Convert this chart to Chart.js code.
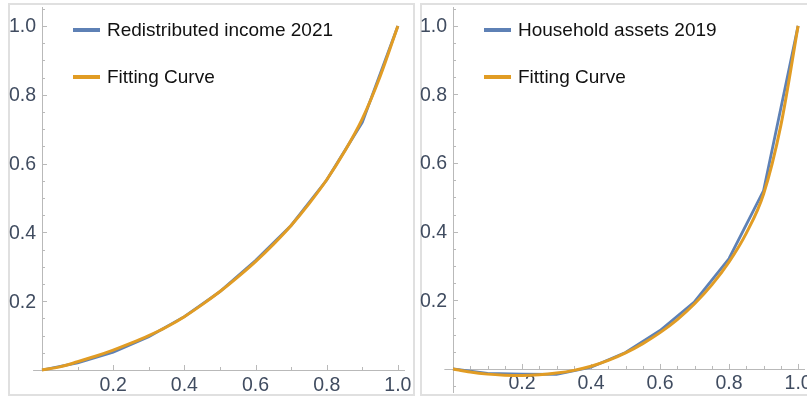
<!DOCTYPE html>
<html>
<head>
<meta charset="utf-8">
<script src="https://cdn.jsdelivr.net/npm/chart.js@4"></script>
<style>
  html, body { margin: 0; padding: 0; background: #ffffff; width: 807px; height: 399px; overflow: hidden; }
  .frame { position: absolute; box-sizing: border-box; border: 2px solid #e0e0e0; }
  canvas { position: absolute; top: 0; }
</style>
</head>
<body>
<div class="frame" style="left:8px; top:3px; width:407px; height:393px;"></div>
<div class="frame" style="left:420px; top:3px; width:400px; height:393px;"></div>
<canvas id="left" width="418" height="399" style="left:0px; width:418px; height:399px;"></canvas>
<canvas id="right" width="389" height="399" style="left:418px; width:389px; height:399px;"></canvas>
<script>
// ---- data ----
const deciles = [0, 0.1, 0.2, 0.3, 0.4, 0.5, 0.6, 0.7, 0.8, 0.9, 1.0];
const incomeValues = [0, 0.021, 0.052, 0.097, 0.155, 0.228, 0.318, 0.42, 0.552, 0.72, 1.0];
const assetsValues = [0, -0.013, -0.015, -0.016, 0.005, 0.048, 0.112, 0.196, 0.322, 0.52, 1.0];

const fitX = [0, 0.05, 0.1, 0.15, 0.2, 0.25, 0.3, 0.35, 0.4, 0.45, 0.5, 0.55, 0.6, 0.65, 0.7, 0.75, 0.8, 0.85, 0.9, 0.95, 1.0];
const incomeFit = [0, 0.009, 0.024, 0.04, 0.058, 0.078, 0.1, 0.125, 0.155, 0.19, 0.228, 0.27, 0.315, 0.365, 0.42, 0.483, 0.553, 0.635, 0.73, 0.853, 1.0];
const assetsFit = [0, -0.009, -0.015, -0.018, -0.019, -0.017, -0.012, -0.004, 0.008, 0.025, 0.047, 0.074, 0.106, 0.144, 0.19, 0.245, 0.312, 0.396, 0.51, 0.71, 1.0];

const incomeLabel = 'Redistributed income 2021';
const assetsLabel = 'Household assets 2019';
const fitLabel = 'Fitting Curve';

const tickValues = [0.2, 0.4, 0.6, 0.8, 1.0];
const tickLabels = ['0.2', '0.4', '0.6', '0.8', '1.0'];

// ---- styling ----
const BLUE = '#5e81b5';
const ORANGE = '#e19c24';
const AXIS = '#b9b9b9';
const LABEL = '#404c60';
const FONT = '"Liberation Sans", Arial, Helvetica, sans-serif';

function pts(xs, ys) { return xs.map((x, i) => ({ x: x, y: ys[i] })); }

const axesPlugin = {
  id: 'mmaAxes',
  beforeDatasetsDraw(chart, args, opts) {
    const ctx = chart.ctx;
    const xs = chart.scales.x, ys = chart.scales.y;
    const x0 = xs.getPixelForValue(0), y0 = ys.getPixelForValue(0);
    ctx.save();
    ctx.strokeStyle = AXIS;
    ctx.lineWidth = 1;
    ctx.beginPath();
    ctx.moveTo(xs.getPixelForValue(-0.025), Math.round(y0) + 0.5);
    ctx.lineTo(chart.chartArea.right, Math.round(y0) + 0.5);
    ctx.stroke();
    ctx.beginPath();
    ctx.moveTo(Math.round(x0) + 0.5, chart.chartArea.bottom);
    ctx.lineTo(Math.round(x0) + 0.5, chart.chartArea.top);
    ctx.stroke();
    const xStep = opts.xMinorStep;
    for (let k = 1; k * xStep <= xs.max + 1e-9; k++) {
      const v = k * xStep;
      const major = Math.abs(v / 0.2 - Math.round(v / 0.2)) < 1e-6;
      const px = Math.round(xs.getPixelForValue(v)) + 0.5;
      ctx.beginPath();
      ctx.moveTo(px, y0);
      ctx.lineTo(px, y0 - (major ? 5 : 3));
      ctx.stroke();
    }
    for (let k = Math.ceil(ys.min / 0.05); k * 0.05 <= ys.max + 1e-9; k++) {
      if (k === 0) continue;
      const v = k * 0.05;
      const major = k % 4 === 0;
      const py = Math.round(ys.getPixelForValue(v)) + 0.5;
      ctx.beginPath();
      ctx.moveTo(x0, py);
      ctx.lineTo(x0 + (major ? 5 : 3), py);
      ctx.stroke();
    }
    ctx.fillStyle = LABEL;
    ctx.font = '19.5px ' + FONT;
    ctx.textAlign = 'center';
    ctx.textBaseline = 'middle';
    tickValues.forEach((v, i) => {
      ctx.fillText(tickLabels[i], xs.getPixelForValue(v), y0 + opts.xLabelOffset);
    });
    ctx.textAlign = 'right';
    tickValues.forEach((v, i) => {
      ctx.fillText(tickLabels[i], x0 - 6, ys.getPixelForValue(v) + 1);
    });
    ctx.restore();
  }
};

const legendPlugin = {
  id: 'insetLegend',
  afterDatasetsDraw(chart) {
    const ctx = chart.ctx;
    const a = chart.chartArea;
    ctx.save();
    ctx.font = '19px ' + FONT;
    ctx.textBaseline = 'middle';
    ctx.textAlign = 'left';
    chart.data.datasets.forEach((ds, i) => {
      const y = a.top + 23 + i * 47;
      ctx.strokeStyle = ds.borderColor;
      ctx.lineWidth = 4;
      ctx.beginPath();
      ctx.moveTo(a.left + 31, y);
      ctx.lineTo(a.left + 58, y);
      ctx.stroke();
      ctx.fillStyle = '#111111';
      ctx.fillText(ds.label, a.left + 65, y + 1);
    });
    ctx.restore();
  }
};

function makeChart(id, label, values, fit, yMin, padding, xMinorStep, xLabelOffset) {
  return new Chart(document.getElementById(id), {
    type: 'scatter',
    data: {
      datasets: [
        { label: label, data: pts(deciles, values), showLine: true, borderColor: BLUE, backgroundColor: BLUE,
          borderWidth: 2.8, pointRadius: 0, tension: 0, clip: false, order: 1 },
        { label: fitLabel, data: pts(fitX, fit), showLine: true, borderColor: ORANGE, backgroundColor: ORANGE,
          borderWidth: 3, pointRadius: 0, cubicInterpolationMode: 'monotone', clip: false, order: 0 }
      ]
    },
    options: {
      responsive: false,
      animation: false,
      devicePixelRatio: 1,
      layout: { padding: padding },
      plugins: { legend: { display: false }, tooltip: { enabled: false },
                 mmaAxes: { xMinorStep: xMinorStep, xLabelOffset: xLabelOffset } },
      scales: {
        x: { type: 'linear', min: 0, max: 1.02, display: false },
        y: { type: 'linear', min: yMin, max: 1.055, display: false }
      }
    },
    plugins: [axesPlugin, legendPlugin]
  });
}

makeChart('left', incomeLabel, incomeValues, incomeFit, 0, { left: 42, right: 13, top: 7, bottom: 29 }, 0.1, 16);
makeChart('right', assetsLabel, assetsValues, assetsFit, -0.07, { left: 35, right: 2, top: 7, bottom: 6 }, 0.05, 15);
</script>
</body>
</html>
